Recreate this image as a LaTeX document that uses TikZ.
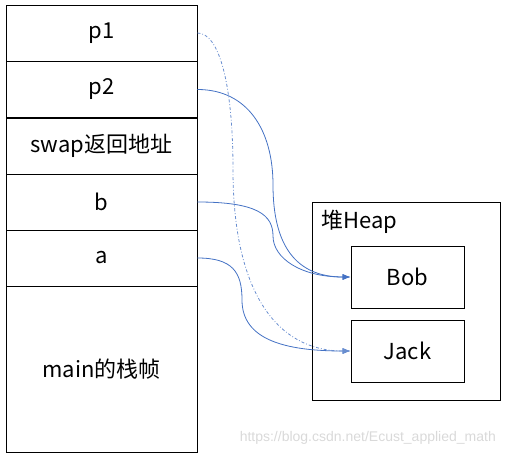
\documentclass[tikz,border=0pt]{standalone}
\usepackage{fontspec}
\setmainfont{Noto Sans CJK SC}
\usetikzlibrary{arrows.meta}
\definecolor{ptrblue}{RGB}{68,114,196}
\begin{document}
\begin{tikzpicture}[x=1pt,y=-1pt, every node/.style={font=\fontsize{22}{26}\selectfont},
  cell/.style={draw,line width=0.9pt,minimum width=191pt,minimum height=56pt,inner sep=0pt},
  obj/.style={draw,line width=0.9pt,minimum width=113pt,minimum height=62pt,inner sep=0pt},
  ptr/.style={ptrblue,line width=0.8pt,-{Latex[length=8pt,width=6pt]}}]
\useasboundingbox (0,0) rectangle (505,457);
% stack frames
\node[cell] (p1) at (101.5,33) {p1};
\node[cell] (p2) at (101.5,89.5) {p2};
\node[cell] (ret) at (101.5,146) {swap返回地址};
\node[cell] (b) at (101.5,202) {b};
\node[cell] (a) at (101.5,258) {a};
\node[cell,minimum height=166pt] (main) at (101.5,369) {main的栈帧};
% heap
\node[draw,line width=0.9pt,minimum width=188pt,minimum height=198pt] (heap) at (406,301) {};
\node[anchor=west,inner sep=0pt] (heaplbl) at (321,222) {堆Heap};
\node[obj] (bob) at (407.5,277) {Bob};
\node[obj] (jack) at (407.5,351) {Jack};
% pointers
\draw[ptr] (p2.east) .. controls +(50,0) and (273,130) .. (273,185) .. controls (273,245) and +(-55,0) .. (bob.west);
\draw[ptr] (b.east) .. controls +(60,0) and (273,215) .. (273,236) .. controls (273,258) and +(-50,0) .. (bob.west);
\draw[ptr] (a.east) .. controls +(35,0) and (242,272) .. (242,300) .. controls (242,340) and +(-65,0) .. (jack.west);
\draw[ptr,ptrblue!80,dash dot] (p1.east) .. controls +(22,0) and (233,85) .. (233,170) .. controls (233,290) and +(-75,0) .. (jack.west);
% watermark
\node[font=\fontspec{Liberation Sans}\fontsize{14}{16}\selectfont,text=black!15,anchor=east,inner sep=0pt] (mark) at (496,438) {https://blog.csdn.net/Ecust\_applied\_math};
\end{tikzpicture}
\end{document}
